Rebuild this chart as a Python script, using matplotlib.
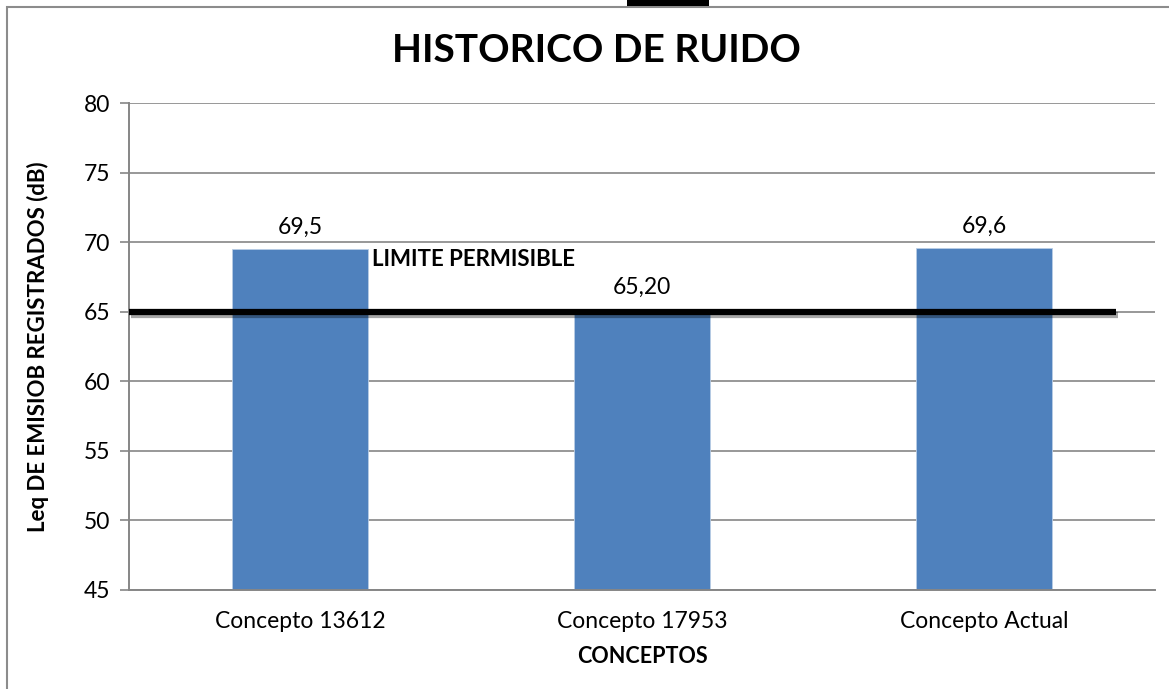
import matplotlib

matplotlib.use("Agg")

import matplotlib.pyplot as plt
import matplotlib.patheffects as pe
from matplotlib.patches import Rectangle

plt.rcParams["font.family"] = ["Lato", "DejaVu Sans"]

categories = ["Concepto 13612", "Concepto 17953", "Concepto Actual"]
values = [69.5, 65.2, 69.6]
value_labels = ["69,5", "65,20", "69,6"]
limit_value = 65
limit_label = "LIMITE PERMISIBLE"
y_ticks = [45, 50, 55, 60, 65, 70, 75, 80]

BAR_COLOR = "#4F81BD"
GRID_COLOR = "#868686"

W, H = 1169, 689
fig = plt.figure(figsize=(W / 100, H / 100), dpi=100)
ax = fig.add_axes([129 / W, 1 - 590 / H, (1155 - 129) / W, (590 - 103) / H])

x = list(range(len(categories)))
bars = ax.bar(x, values, width=0.4, color=BAR_COLOR, edgecolor="#B9CDE5", linewidth=0.6, zorder=2)
ax.bar_label(bars, labels=value_labels, padding=8, fontsize=16.5)

ax.set_xlim(-0.5, len(categories) - 0.5)
ax.set_ylim(y_ticks[0], y_ticks[-1])
ax.set_yticks(y_ticks)
ax.set_xticks(x)
ax.set_xticklabels(categories)
ax.tick_params(axis="y", length=6.5, color=GRID_COLOR, width=1.2, labelsize=16.5, pad=7)
ax.tick_params(axis="x", length=0, labelsize=16.5, pad=15)
ax.grid(axis="y", color=GRID_COLOR, linewidth=1.2, zorder=0)
ax.set_axisbelow(True)
for side in ("top", "right"):
    ax.spines[side].set_visible(False)
for side in ("left", "bottom"):
    ax.spines[side].set_color(GRID_COLOR)
    ax.spines[side].set_linewidth(1.4)

# limit line with a soft shadow, like the Office drawing
ax.plot([-0.5, 2.386], [limit_value, limit_value], color="black", linewidth=4.5,
        solid_capstyle="butt", zorder=4, clip_on=False,
        path_effects=[pe.SimpleLineShadow(offset=(1.5, -2.5), shadow_color="black", alpha=0.35),
                      pe.Normal()])
ax.text(0.21, 68.75, limit_label, fontsize=16, fontweight="bold", va="center", ha="left", zorder=5)

ax.set_xlabel("CONCEPTOS", fontsize=15.5, fontweight="bold", labelpad=10)
fig.text(38 / W, 1 - 347 / H, "Leq DE EMISIOB REGISTRADOS (dB)", rotation=90,
         ha="center", va="center", fontsize=16, fontweight="bold")
fig.text(596 / W, 1 - 51 / H, "HISTORICO DE RUIDO", ha="center", va="center",
         fontsize=28, fontweight="bold")

# chart frame (runs off the right/bottom of the picture) and the black mark at the top
fig.patches.append(Rectangle((7 / W, -0.05), 1.1, 1 - 7 / H + 0.05, transform=fig.transFigure,
                             fill=False, edgecolor="#8C8C8C", linewidth=1.5))
fig.patches.append(Rectangle((627 / W, 1 - 6 / H), 82 / W, 6 / H, transform=fig.transFigure,
                             facecolor="black", edgecolor="none"))

fig.savefig("out.png", dpi=100)
